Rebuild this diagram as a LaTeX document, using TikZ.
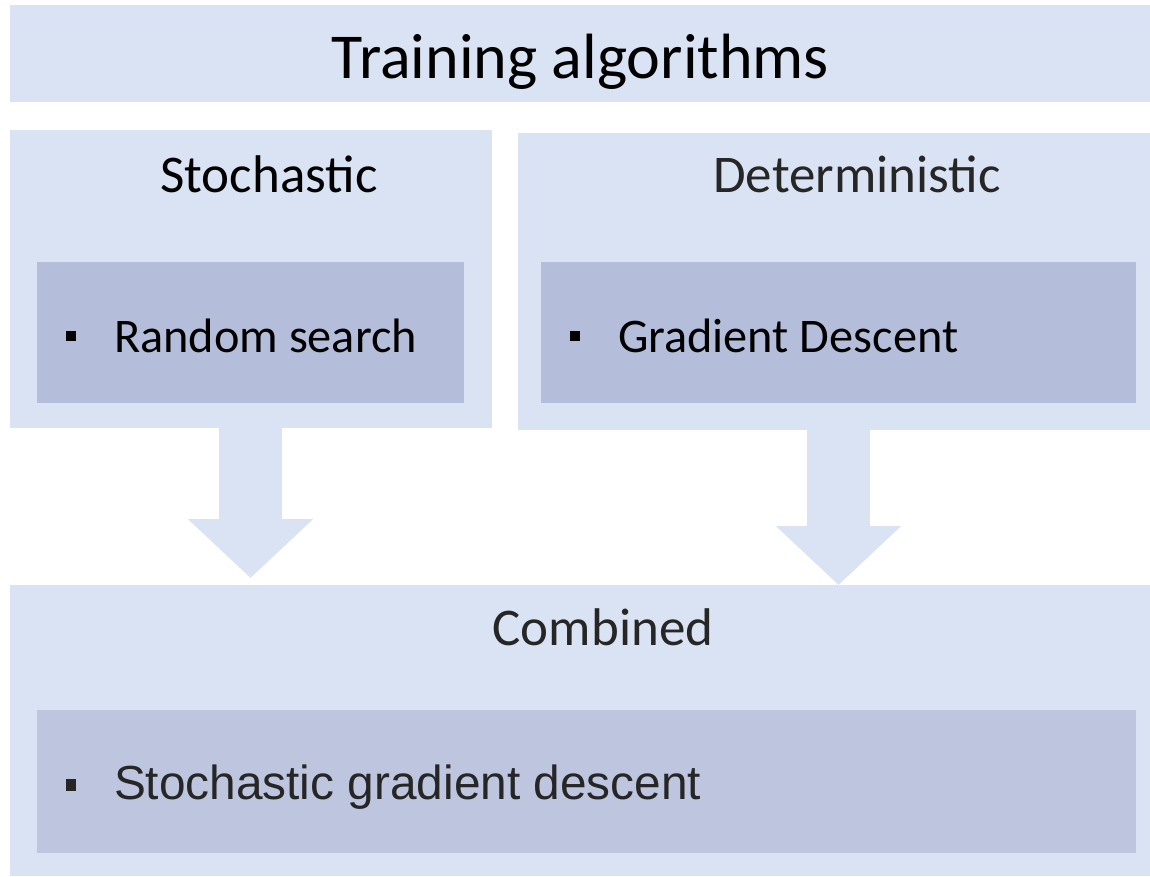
\documentclass[tikz,border=0pt]{standalone}
\usepackage{fontspec}
\setmainfont{Carlito}
\newfontfamily\arialf{Liberation Sans}
\usetikzlibrary{arrows.meta}
\definecolor{boxlight}{HTML}{DAE3F3}
\definecolor{boxdark}{HTML}{B4BEDA}
\definecolor{boxdarkb}{HTML}{BDC5DF}
\definecolor{txtgray}{HTML}{262626}
\begin{document}
\begin{tikzpicture}[x=1pt,y=-1pt,
  panel/.style={fill=boxlight, draw=none, inner sep=0pt, outer sep=0pt, anchor=north west},
  itembox/.style={fill=boxdark, draw=none, inner sep=0pt, outer sep=0pt, anchor=north west},
  itemboxb/.style={fill=boxdarkb, draw=none, inner sep=0pt, outer sep=0pt, anchor=north west},
  lbl/.style={inner sep=0pt, outer sep=0pt},
  bulletsq/.style={fill=black, draw=none, inner sep=0pt, outer sep=0pt, minimum width=10pt, minimum height=10pt},
  fatarrow/.style={draw=boxlight, line width=63pt, line cap=butt, -{Triangle[width=122pt,length=59pt,fill=boxlight]}}
]
\useasboundingbox (0,0) rectangle (1150,876);
% panels
\node[panel, minimum width=1140pt, minimum height=97pt] (title) at (10,5) {};
\node[panel, minimum width=482pt, minimum height=298pt] (stoch) at (10,130) {};
\node[panel, minimum width=632pt, minimum height=297pt] (det) at (518,133) {};
\node[panel, minimum width=1140pt, minimum height=291pt] (comb) at (10,585) {};
\node[itembox, minimum width=427pt, minimum height=141pt] (stochitem) at (37,262) {};
\node[itembox, minimum width=595pt, minimum height=141pt] (detitem) at (541,262) {};
\node[itemboxb, minimum width=1099pt, minimum height=143pt] (combitem) at (37,710) {};
% arrows
\coordinate (la) at (250.5,0);
\coordinate (ra) at (838.5,0);
\draw[fatarrow, shorten >=7pt] (stoch.south -| la) -- (comb.north -| la);
\draw[fatarrow] (det.south -| ra) -- (comb.north -| ra);
% texts
\node[lbl, anchor=base, font=\fontsize{64}{70}\selectfont] (titletext) at (580.5,78) {Training algorithms};
\node[lbl, anchor=base, font=\fontsize{53}{60}\selectfont] (stochtext) at (269,192) {Stochastic};
\node[lbl, anchor=base, font=\fontsize{53}{60}\selectfont, text=txtgray] (dettext) at (857,192) {Deterministic};
\node[lbl, anchor=base, font=\fontsize{53}{60}\selectfont, text=txtgray] (combtext) at (603,645) {Combined};
\node[bulletsq] (b1) at (71,336) {};
\node[lbl, anchor=base west, font=\fontsize{48.3}{55}\selectfont] (rs) at (114,352) {Random search};
\node[bulletsq] (b2) at (575,336) {};
\node[lbl, anchor=base west, font=\fontsize{48.3}{55}\selectfont] (gd) at (618,352) {Gradient Descent};
\node[bulletsq, fill=txtgray, minimum height=12pt] (b3) at (70.5,784.5) {};
\node[lbl, anchor=base west, font=\arialf\fontsize{47.8}{55}\selectfont, text=txtgray] (sgd) at (114,799) {Stochastic gradient descent};
\end{tikzpicture}
\end{document}
